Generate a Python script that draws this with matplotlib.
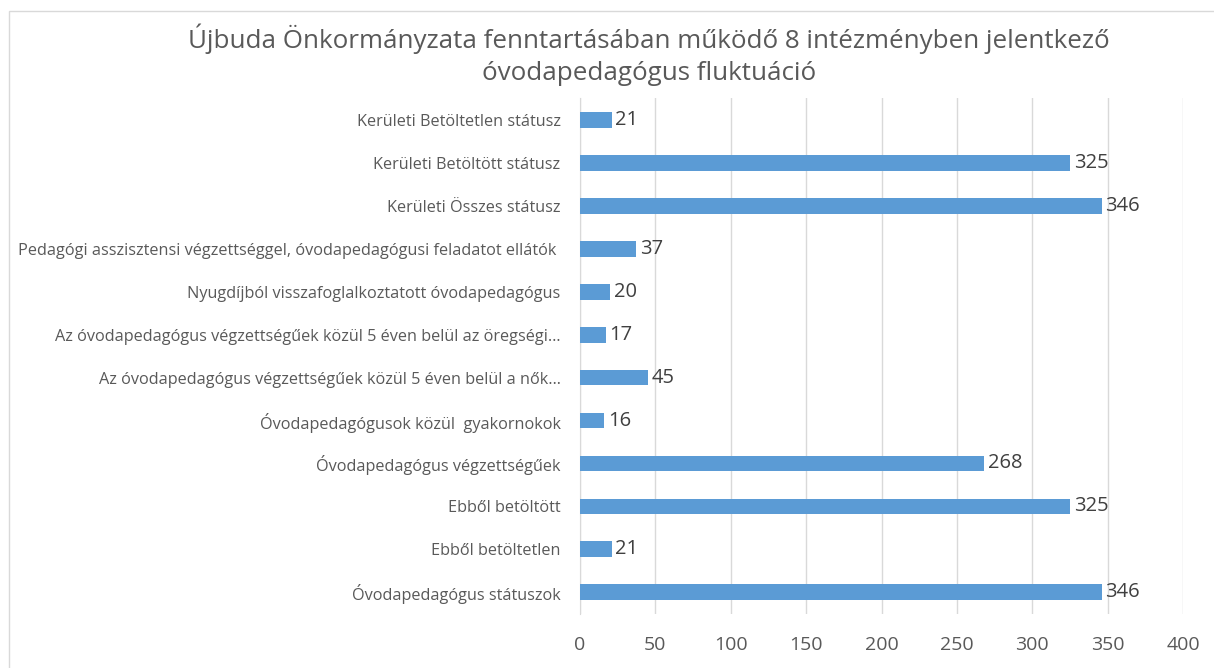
import matplotlib.pyplot as plt
from matplotlib.patches import Rectangle

categories = [
    "Óvodapedagógus státuszok",
    "Ebből betöltetlen",
    "Ebből betöltött",
    "Óvodapedagógus végzettségűek",
    "Óvodapedagógusok közül  gyakornokok",
    "Az óvodapedagógus végzettségűek közül 5 éven belül a nők…",
    "Az óvodapedagógus végzettségűek közül 5 éven belül az öregségi…",
    "Nyugdíjból visszafoglalkoztatott óvodapedagógus",
    "Pedagógi asszisztensi végzettséggel, óvodapedagógusi feladatot ellátók ",
    "Kerületi Összes státusz",
    "Kerületi Betöltött státusz",
    "Kerületi Betöltetlen státusz",
]
values = [346, 21, 325, 268, 16, 45, 17, 20, 37, 346, 325, 21]
xticks = [0, 50, 100, 150, 200, 250, 300, 350, 400]

title = "Újbuda Önkormányzata fenntartásában működő 8 intézményben jelentkező\nóvodapedagógus fluktuáció"

plt.rcParams['font.family'] = ['Open Sans', 'DejaVu Sans']

fig = plt.figure(figsize=(12.14, 6.68), dpi=100)
ax = fig.add_axes([0.4778, 0.081, 0.4967, 0.772])

bar_color = "#5B9BD5"
ax.barh(range(len(values)), values, height=0.37, color=bar_color, zorder=3)

for i, v in enumerate(values):
    ax.text(v + 2.5, i, str(v), va="center", ha="left", fontsize=14.5, color="#404040")

ax.set_xlim(0, 400)
ax.set_ylim(-0.5, len(values) - 0.5)
ax.set_xticks(xticks)
ax.set_xticklabels([str(t) for t in xticks], fontsize=14, color="#595959")
ax.tick_params(axis="both", length=0)
ax.set_yticks(range(len(values)))
ax.set_yticklabels(categories, fontsize=11.7, color="#595959")
ax.tick_params(axis="x", pad=16)
ax.tick_params(axis="y", pad=14)
ax.grid(axis="x", color="#D9D9D9", linewidth=1, zorder=0)
for side in ["top", "right", "bottom"]:
    ax.spines[side].set_visible(False)
ax.spines["left"].set_color("#D9D9D9")

fig.text(0.5345, 0.918, title, ha="center", va="center", fontsize=18.7,
         color="#595959", linespacing=1.4)

fig.patches.append(Rectangle((9 / 1214, -0.1), 1.1, 1 - 11 / 668 + 0.1,
                             transform=fig.transFigure, fill=False,
                             edgecolor="#D9D9D9", linewidth=1))

fig.savefig("out.png", dpi=100)
